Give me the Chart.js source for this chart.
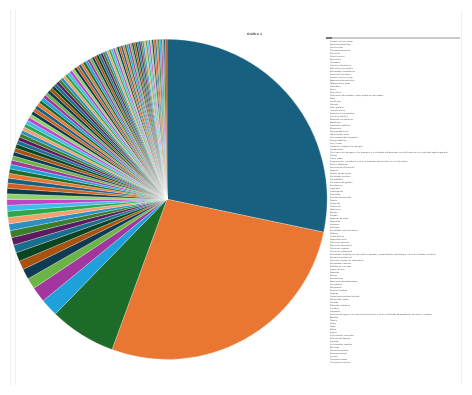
<!DOCTYPE html>
<html>
<head>
<meta charset="utf-8">
<script src="https://cdn.jsdelivr.net/npm/chart.js@4"></script>
<style>
  html, body { margin: 0; padding: 0; background: #fff; overflow: hidden; width: 472px; height: 395px; }
  #wrap { position: relative; width: 472px; height: 395px; overflow: hidden; }
  #chart { position: absolute; left: 0; top: 0; }
  .frame { position: absolute; top: 10px; height: 375px; border-left: 1px solid #f0f0f0; }
  #legendHead { position: absolute; left: 326px; top: 37px; width: 134px; height: 2px; background: linear-gradient(to right, #777 0, #777 6px, #c9c9c9 6px); }
</style>
</head>
<body>
<div id="wrap">
  <div class="frame" style="left:10px"></div>
  <div class="frame" style="left:15px"></div>
  <div class="frame" style="left:461px"></div>
  <canvas id="chart" width="503" height="395"></canvas>
  <div id="legendHead"></div>
</div>
<script>
// datos del gráfico
const chartTitle = 'Gráfico 1';

const categories = [
  'Comercio al por menor', 'Servicios personales', 'Construcción', 'Transporte terrestre',
  'Educación', 'Salud humana', 'Agricultura', 'Hostelería', 'Industria alimentaria',
  'Administración pública', 'Actividades inmobiliarias', 'Servicios financieros',
  'Comercio al por mayor', 'Reparación de vehículos', 'Telecomunicaciones', 'Ganadería',
  'Pesca', 'Silvicultura', 'Fabricación de muebles y otros productos de madera',
  'Textil', 'Confección', 'Calzado', 'Artes gráficas', 'Química básica',
  'Productos farmacéuticos', 'Caucho y plástico', 'Minerales no metálicos', 'Metalurgia',
  'Productos metálicos', 'Maquinaria', 'Equipos eléctricos', 'Vehículos de motor',
  'Otro material de transporte', 'Energía eléctrica', 'Gas y vapor',
  'Captación y depuración de agua', 'Saneamiento',
  'Otros servicios de apoyo a las empresas y actividades profesionales no clasificadas en otra parte del registro general',
  'Edición', 'Cine y vídeo',
  'Programación, consultoría y otras actividades relacionadas con la informática',
  'Radio y televisión', 'Servicios de información', 'Seguros', 'Fondos de pensiones',
  'Actividades jurídicas', 'Contabilidad', 'Consultoría de gestión', 'Arquitectura',
  'Ingeniería', 'Investigación', 'Publicidad', 'Estudios de mercado', 'Diseño',
  'Fotografía', 'Traducción', 'Veterinaria', 'Alquiler', 'Empleo', 'Agencias de viajes',
  'Seguridad', 'Limpieza', 'Jardinería', 'Actividades administrativas', 'Defensa',
  'Orden público', 'Seguridad social', 'Educación primaria', 'Educación secundaria',
  'Educación superior', 'Formación profesional',
  'Actividades hospitalarias, de medicina general y especializada, odontología y otras actividades sanitarias',
  'Asistencia residencial', 'Servicios sociales sin alojamiento', 'Actividades creativas',
  'Bibliotecas y museos', 'Juegos de azar', 'Deportes', 'Recreo', 'Asociaciones',
  'Reparación de ordenadores', 'Lavanderías', 'Peluquerías', 'Pompas fúnebres',
  'Hogares', 'Organismos extraterritoriales', 'Minería del carbón', 'Petróleo',
  'Minerales metálicos', 'Canteras', 'Coquerías',
  'Servicios de apoyo a las industrias extractivas y otras actividades de explotación de minas y canteras',
  'Bebidas', 'Tabaco', 'Cuero', 'Papel', 'Refino', 'Joyería', 'Instrumentos musicales',
  'Artículos de deporte', 'Juguetes', 'Instrumentos médicos', 'Reciclaje',
  'Descontaminación', 'Almacenamiento', 'Correos', 'Transporte aéreo', 'Transporte marítimo'
];

const values = [
  28.3, 27.3, 6.7, 1.8, 1.55, 1.1, 1.05, 0.9, 0.9,
  0.8, 0.76, 0.72, 0.68, 0.65, 0.62, 0.6, 0.58, 0.56, 0.54,
  0.52, 0.5, 0.48, 0.46, 0.45, 0.44, 0.43, 0.42, 0.41, 0.4,
  0.39, 0.38, 0.37, 0.36, 0.35,
  0.37, 0.37, 0.36, 0.36, 0.35, 0.35, 0.34, 0.34, 0.33, 0.33,
  0.33, 0.32, 0.32, 0.31, 0.31, 0.31, 0.3, 0.3, 0.29, 0.29,
  0.29, 0.28, 0.28, 0.28, 0.27, 0.27, 0.26, 0.26, 0.26, 0.25,
  0.25, 0.25, 0.24, 0.24, 0.24, 0.23, 0.23, 0.23, 0.22, 0.22,
  0.22, 0.21, 0.21, 0.21, 0.2, 0.2, 0.2, 0.19, 0.19, 0.19,
  0.19, 0.18, 0.18, 0.18, 0.18, 0.17, 0.17, 0.17, 0.17, 0.17,
  0.16, 0.16, 0.16, 0.16, 0.16, 0.15, 0.15, 0.15, 0.15, 0.15,
  0.15, 0.15, 0.15, 0.15
];

const palette = [
  '#17607f', '#e97632', '#1c6b28', '#1ea1db', '#a2359e', '#6ab545', '#0e3b52',
  '#a9520f', '#0b4420', '#1a6d8c', '#5b1b5e', '#3b7d2b', '#2c8fc2', '#f2a06c',
  '#2aa84a', '#3fbce9', '#c143c7', '#8fd16c', '#0b3946', '#d35f1f'
];

// ancho fijo de la leyenda
const legendWidth = {
  id: 'legendWidth',
  beforeInit(chart) {
    const fit = chart.legend.fit;
    chart.legend.fit = function () {
      fit.bind(chart.legend)();
      this.width = 175;
    };
  }
};

new Chart(document.getElementById('chart'), {
  type: 'pie',
  data: {
    labels: categories,
    datasets: [{
      data: values,
      backgroundColor: palette,
      borderColor: '#ffffff',
      borderWidth: 0.25
    }]
  },
  options: {
    responsive: false,
    animation: false,
    layout: { padding: { left: 6, right: 0, top: 0, bottom: 0 } },
    plugins: {
      title: {
        display: true,
        text: chartTitle,
        color: '#555',
        font: { family: 'DejaVu Sans', size: 3 },
        padding: { top: 32, bottom: 3.4 }
      },
      subtitle: {
        display: true,
        position: 'bottom',
        text: '',
        font: { size: 3 },
        padding: { top: 31.9, bottom: 0 }
      },
      legend: {
        position: 'right',
        align: 'start',
        title: {
          display: true,
          text: ' ',
          font: { size: 2 },
          padding: { top: 36.6, bottom: 0 }
        },
        labels: {
          boxWidth: 0,
          boxHeight: 0,
          padding: 1,
          color: '#555',
          font: { family: 'DejaVu Sans', size: 2 }
        }
      },
      tooltip: { enabled: false }
    }
  },
  plugins: [legendWidth]
});
</script>
</body>
</html>
